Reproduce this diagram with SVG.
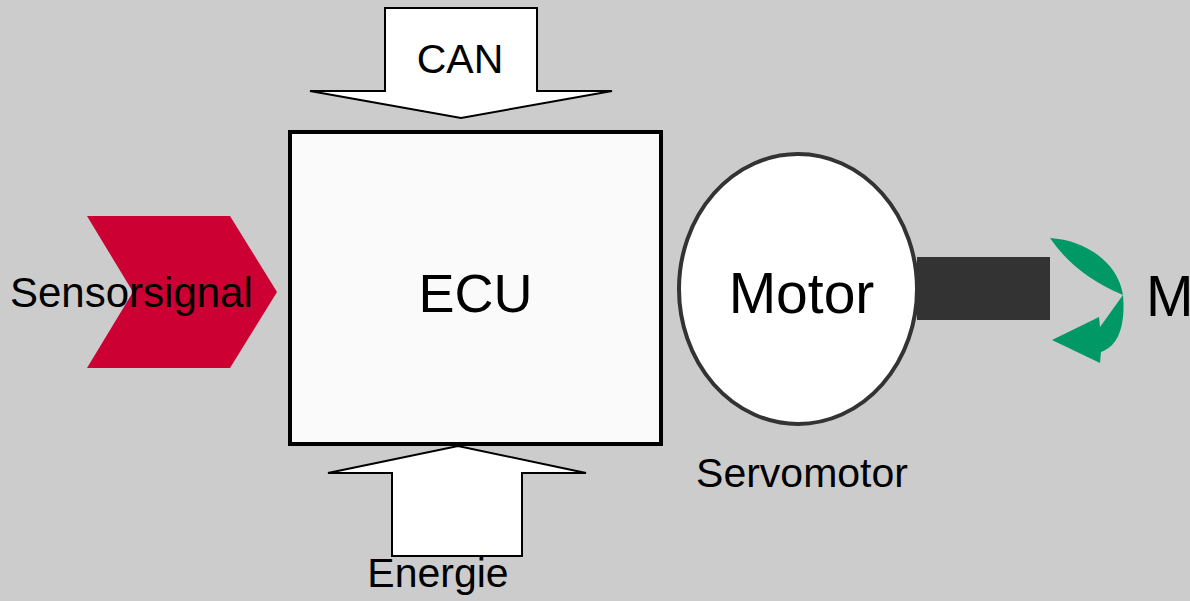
<svg xmlns="http://www.w3.org/2000/svg" width="1190" height="601" viewBox="0 0 1190 601">
<style>
  .lbl { font-family: "Liberation Sans", Arial, sans-serif; fill: #000; }
  .outline { fill: #ffffff; stroke: #000; stroke-width: 2; stroke-linejoin: miter; }
</style>
<rect x="0" y="0" width="1190" height="601" fill="#cccccc"/>

<g id="connectors">
  <g id="can-arrow">
    <polygon class="outline" points="385,8 537,8 537,91 612,91 461,118 310,91 385,91"/>
    <text class="lbl" x="460" y="73" font-size="41" text-anchor="middle">CAN</text>
  </g>
  <g id="energie-arrow">
    <polygon class="outline" points="392,556 522,556 522,473 586,473 458,446 328,473 392,473"/>
    <text class="lbl" x="438" y="587" font-size="41" text-anchor="middle">Energie</text>
  </g>
  <g id="sensor-arrow">
    <polygon points="87,216 230,216 277,292 230,368 87,368 133,292" fill="#cc0033"/>
    <text class="lbl" x="10" y="307" font-size="42">Sensorsignal</text>
  </g>
</g>

<g id="ecu">
  <rect x="290" y="132" width="371" height="312" fill="#fafafa" stroke="#000" stroke-width="4"/>
  <text class="lbl" x="475.5" y="312" font-size="54" text-anchor="middle">ECU</text>
</g>

<g id="motor">
  <rect x="917" y="257" width="133" height="63" fill="#333333"/>
  <ellipse cx="798" cy="289" rx="119" ry="135" fill="#ffffff" stroke="#333333" stroke-width="4"/>
  <text class="lbl" x="801.5" y="313" font-size="57" text-anchor="middle">Motor</text>
  <text class="lbl" x="802" y="487" font-size="41" text-anchor="middle">Servomotor</text>
</g>

<g id="torque">
  <path d="M 1050 238 C 1085 240, 1118 262, 1123 295 C 1125 318, 1122 345, 1101 352 L 1100 363 L 1052 340 L 1099 317 L 1100 327 L 1123 295 Q 1075 275, 1050 238 Z" fill="#009966"/>
  <text class="lbl" x="1146" y="316" font-size="57">M</text>
</g>
</svg>
